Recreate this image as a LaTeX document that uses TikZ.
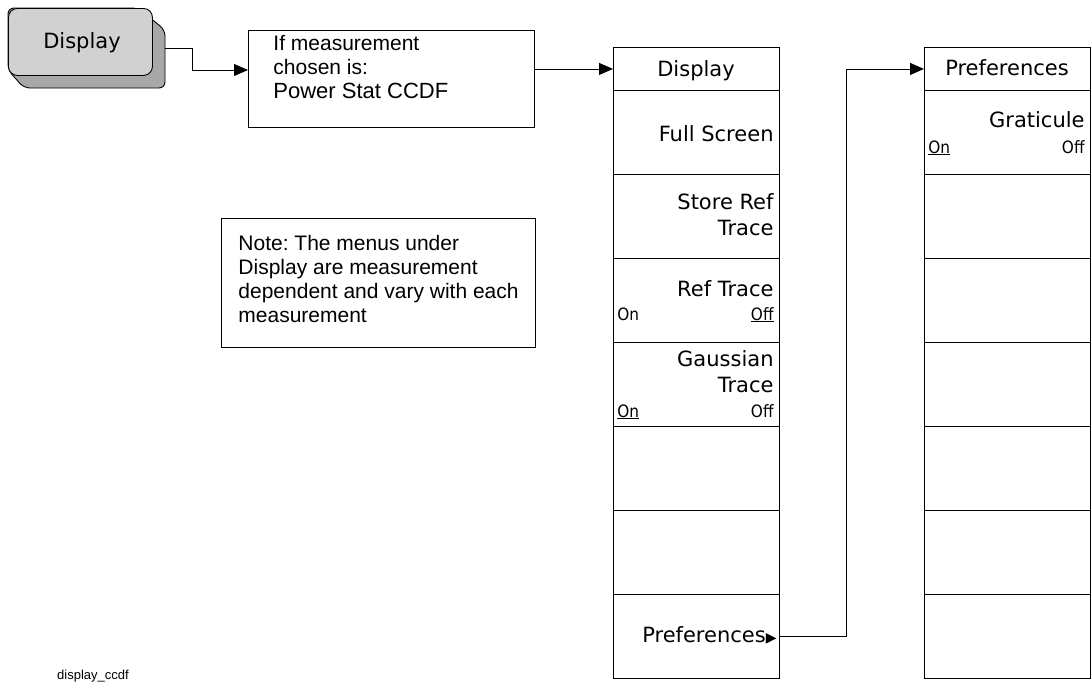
\documentclass[tikz,border=0pt]{standalone}
\usepackage{fontspec}
\setmainfont{Liberation Sans}
\newfontfamily\softfont{DejaVu Sans}
\newfontfamily\narrowfont{DejaVu Sans Condensed}
\usetikzlibrary{arrows.meta}
\definecolor{keyface}{gray}{0.82}
\definecolor{keyshade}{gray}{0.66}
\frenchspacing

\begin{document}
\begin{tikzpicture}[x=1pt,y=-1pt,line width=0.9pt,>={Triangle[length=14pt,width=12pt]},
  menubox/.style={draw,anchor=north west,minimum width=166pt,inner sep=0pt},
  menutitle/.style={menubox,minimum height=43pt},
  softkey/.style={menubox,minimum height=84pt},
  sklabel/.style={inner sep=0pt,align=right,font=\softfont\fontsize{21}{26}\selectfont},
  onoff/.style={inner sep=0pt,font=\narrowfont\fontsize{17}{17}\selectfont},
  plain/.style={inner sep=0pt,align=left,font=\fontsize{21}{24}\selectfont}]
\useasboundingbox (0,0) rectangle (1092,681);
% ================= hard key =================
\draw[fill=keyshade,rounded corners=6pt] (138,8) -- (165,30) -- (165,88) -- (24,88) -- (8,70) -- (8,8) -- cycle;
\node[draw,fill=keyface,rounded corners=9pt,anchor=north west,minimum width=144pt,minimum height=67pt,inner sep=0pt] (key) at (8,8) {};
\node[sklabel,anchor=base] (keytext) at (82,48) {Display};
% ================= condition box =================
\node[draw,anchor=north west,minimum width=286pt,minimum height=97pt,inner sep=0pt] (ifbox) at (248,30) {};
\node[plain,anchor=north west] (iftext) at (273,35) {If measurement\\chosen is:};
\node[plain,anchor=base west,font=\fontsize{22}{24}\selectfont] (ifmeas) at (273,98) {Power Stat CCDF};
% ================= note =================
\node[draw,anchor=north west,minimum width=314pt,minimum height=129pt,inner sep=0pt] (note) at (221,218) {};
\node[plain,anchor=north west] (notetext) at (238,235) {Note: The menus under\\Display are measurement\\dependent and vary with each\\measurement};
\node[anchor=base,inner sep=0pt,font=\fontsize{13}{13}\selectfont] (fname) at (93,679) {display\_ccdf};
% ================= Display menu =================
\node[menutitle] (dsp0) at (613,47) {};
\foreach \i in {1,...,7} \node[softkey] (dsp\i) at (613,{6+84*\i}) {};
\node[sklabel,anchor=base] at (696,76) {Display};
\node[sklabel,anchor=base east] at (774,141) {Full Screen};
\node[sklabel,anchor=north east] at (774,193) {Store Ref\\Trace};
\node[sklabel,anchor=base east] at (774,296) {Ref Trace};
\node[onoff,anchor=base west] at (617,320) {On};
\node[onoff,anchor=base east] at (774,320) {\underline{Off}};
\node[sklabel,anchor=north east] at (774,350) {Gaussian\\Trace};
\node[onoff,anchor=base west] at (617,417) {\underline{On}};
\node[onoff,anchor=base east] at (774,417) {Off};
\node[sklabel,anchor=base east] at (777,642) {Preferences{\fontsize{14}{14}\selectfont▶}};
% ================= Preferences menu =================
\node[menutitle] (prf0) at (924,47) {};
\foreach \i in {1,...,7} \node[softkey] (prf\i) at (924,{6+84*\i}) {};
\node[sklabel,anchor=base] at (1007,75) {Preferences};
\node[sklabel,anchor=base east] at (1085,127) {Graticule};
\node[onoff,anchor=base west] at (928,153) {\underline{On}};
\node[onoff,anchor=base east] at (1085,153) {Off};
% ================= connectors =================
\coordinate (keyout) at (165,48);
\coordinate (ifin) at (248,70);
\coordinate (prfout) at (779,636);
\draw[->] (keyout) -- (192,48) |- (ifin);
\draw[->] (ifbox.east |- dsp0.west) -- (dsp0.west);
\draw[->] (prfout) -- (846,636) |- (prf0.west);
\end{tikzpicture}
\end{document}
